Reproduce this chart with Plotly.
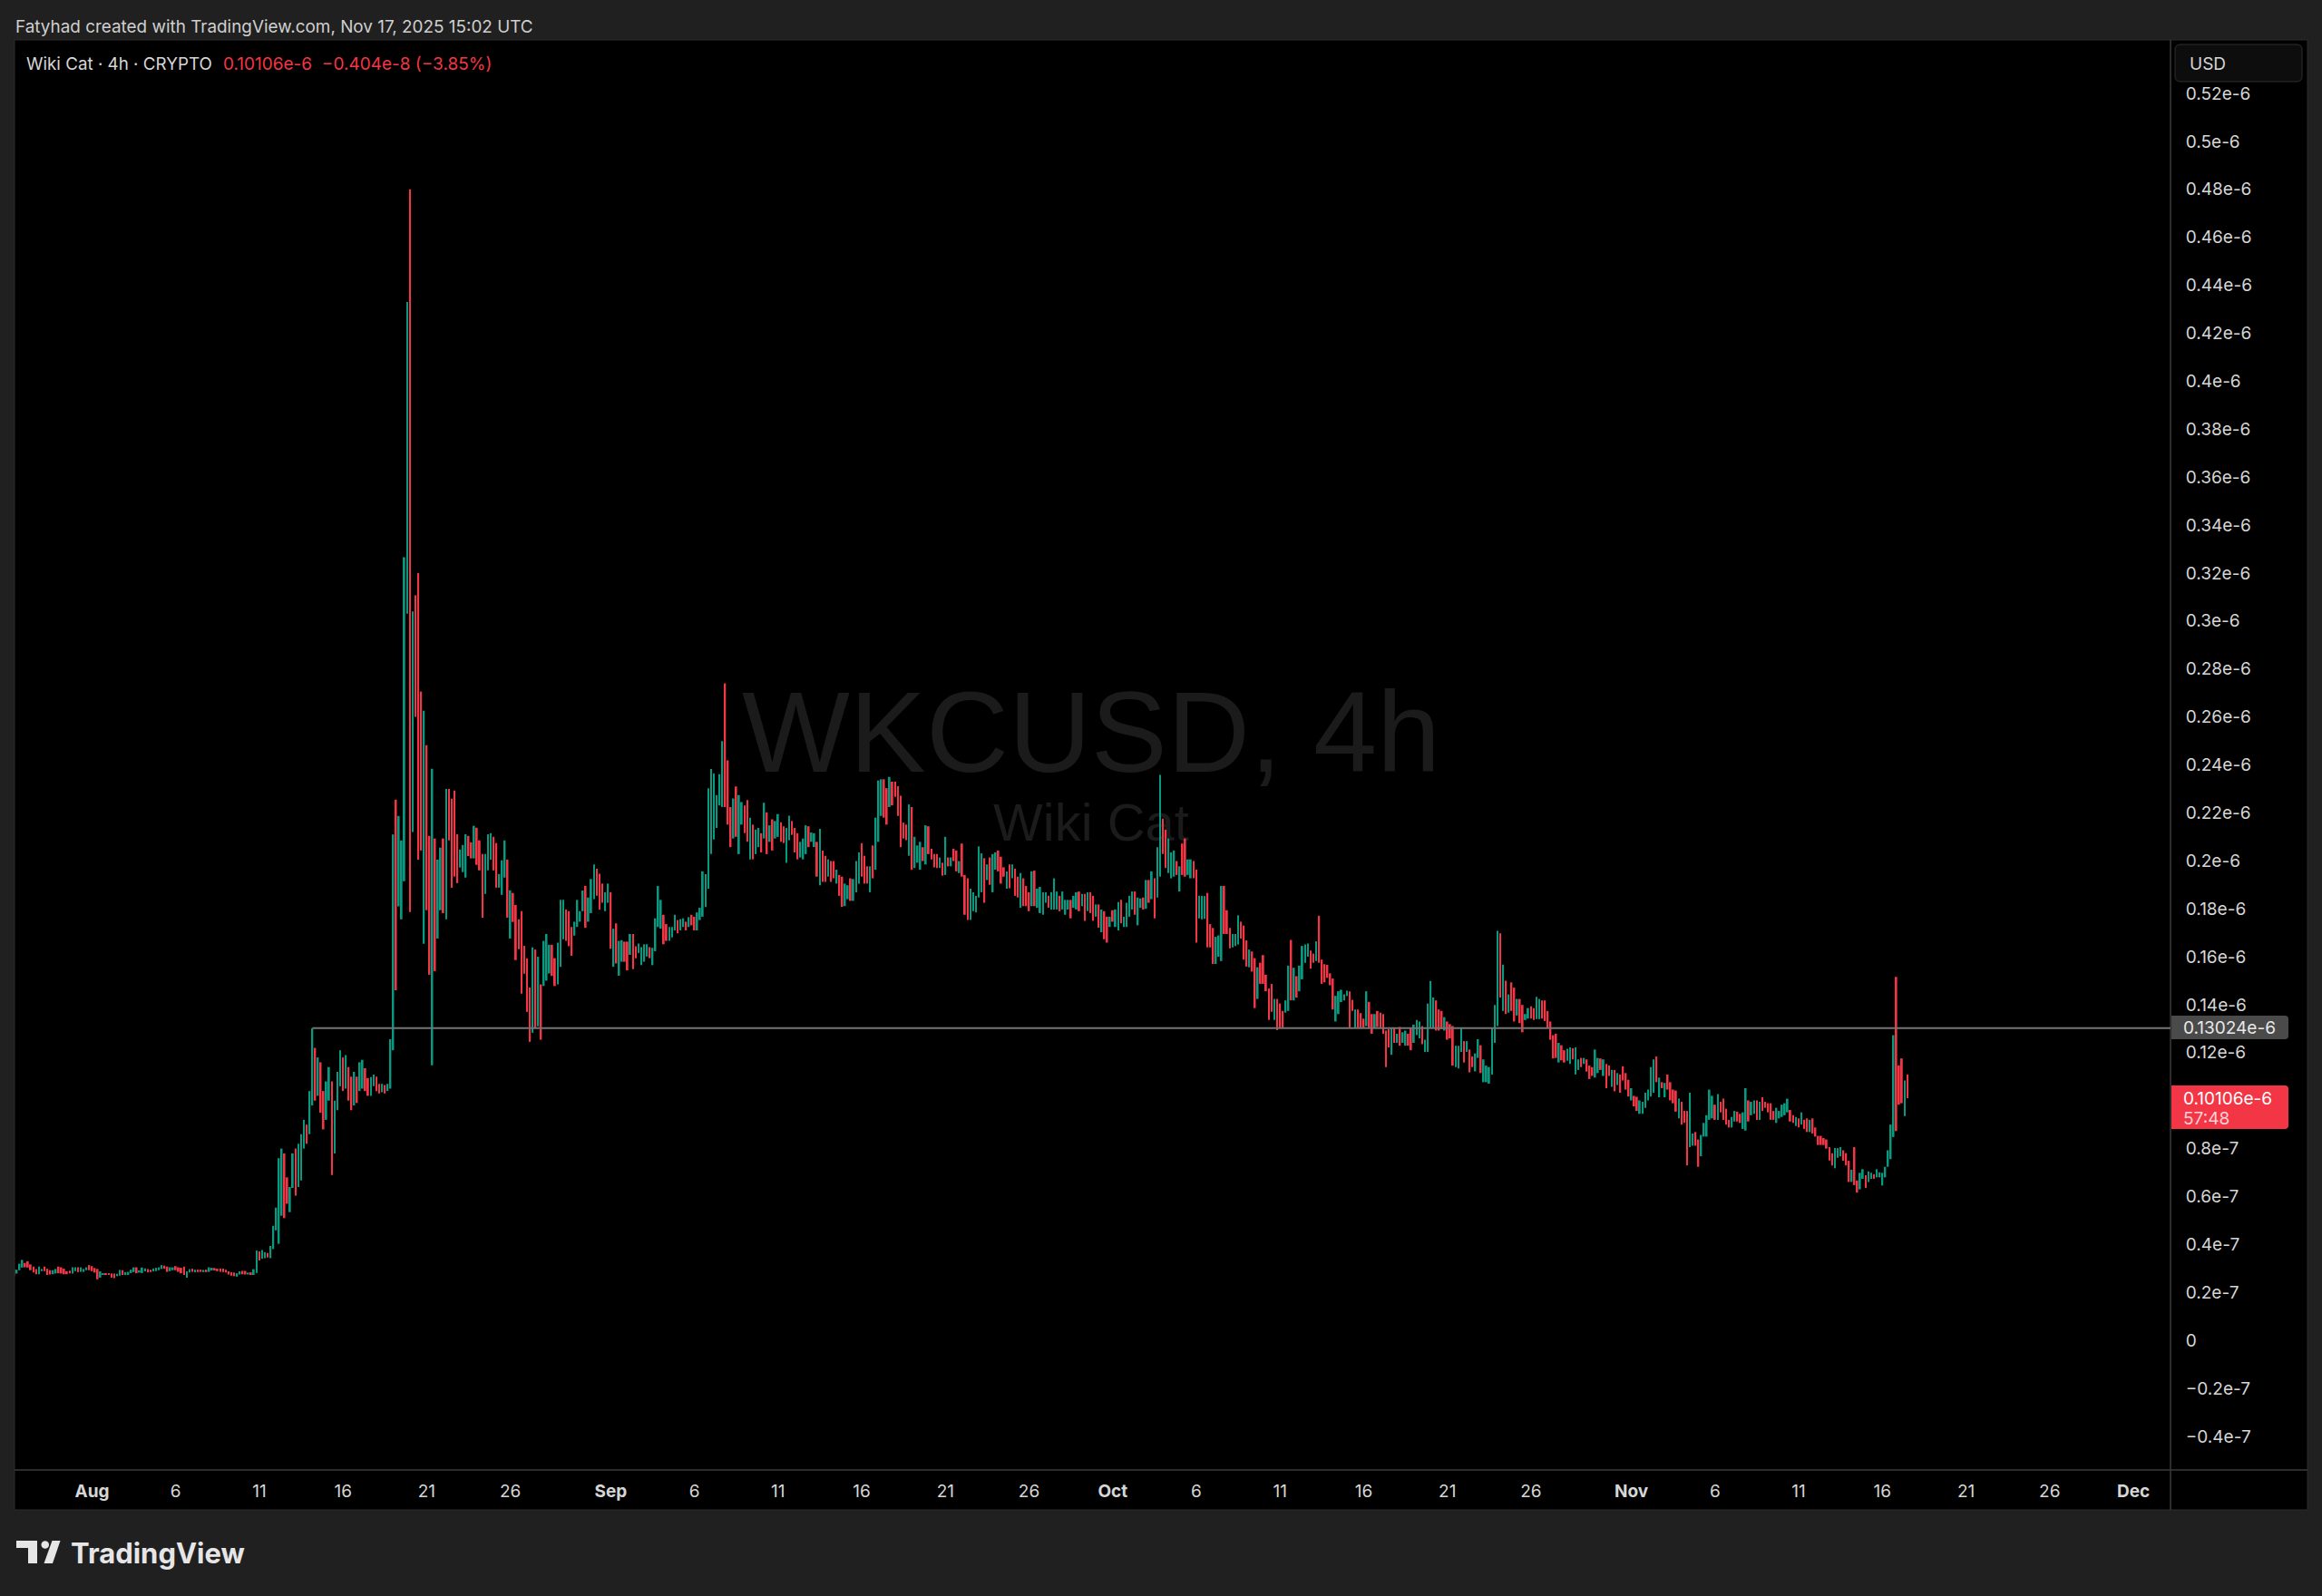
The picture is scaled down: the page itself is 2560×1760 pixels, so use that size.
import pandas as pd
import plotly.graph_objects as go

# ---------------- data (prices in units of 1e-9 USD) ----------------
START = "2025-07-27 08:00"      # first 4h candle
PRICE_UNIT = 1e-9

# candle extents: top, bottom, direction (g = up, r = down)
top_1 = [29.8, 29.5, 32.0, 33.6, 32.3, 33.0, 31.7, 30.8, 29.8, 30.8,
         29.8, 30.8, 29.9, 29.3, 29.3, 29.8, 30.8, 30.5, 29.9, 28.9,
         29.1, 30.5, 30.5, 30.5, 30.5, 29.8, 30.5, 31.4, 31.0, 30.2,
         29.8, 28.8, 28.0, 28.1, 28.0, 28.0, 27.9, 27.8, 29.4, 29.3,
         28.5, 28.6, 29.5, 30.5, 30.5, 29.2, 30.4, 30.0, 29.8, 29.5,
         30.0, 30.3, 30.5, 31.4, 31.2, 30.8, 30.5, 30.5, 31.0, 30.5,
         30.3, 30.8, 28.8, 29.8, 29.9, 29.5, 29.5, 29.5, 29.4, 29.5,
         30.5, 30.3, 30.2, 29.9, 29.9, 29.9, 29.5, 28.8, 28.4, 28.3,
         28.0, 28.8, 29.0, 29.0, 28.3, 28.4, 29.7, 37.5, 37.1, 37.7,
         36.8, 36.5, 39.4, 47.8, 55.4, 76, 80, 78, 68, 64,
         78, 80, 82, 86]
bot_1 = [27.0, 27.9, 29.3, 30.4, 30.5, 30.4, 29.3, 28.3, 27.6, 27.6,
         28.9, 28.9, 27.3, 27.5, 27.6, 27.9, 28.0, 27.9, 27.6, 27.6,
         28.0, 27.9, 28.9, 28.5, 28.6, 28.6, 29.3, 29.3, 28.9, 28.3,
         25.5, 26.2, 27.5, 27.4, 27.3, 26.2, 26.0, 26.8, 27.0, 27.3,
         27.3, 27.3, 28.1, 28.5, 28.0, 28.3, 28.1, 28.8, 28.4, 28.5,
         28.8, 28.9, 29.3, 29.8, 29.9, 28.6, 28.9, 29.3, 29.3, 28.6,
         28.0, 27.3, 26.2, 28.3, 28.6, 28.8, 28.5, 28.6, 28.5, 28.5,
         28.6, 29.2, 29.5, 28.9, 28.6, 28.5, 28.3, 27.5, 27.0, 26.8,
         26.6, 27.5, 27.6, 27.5, 27.5, 27.3, 27.3, 28.1, 33.3, 34.1,
         34.3, 34.6, 34.3, 38.1, 45.9, 40.3, 52, 51, 57, 53.5,
         63.6, 60.4, 64, 66.7]
dir_1 = ("rgggrrrrrg" "grrrggrrrr" "rggrgggrrr" "rggrrrrggr" "ggggrgggrr"
         "ggggrrggrr" "rrggrgrrgr" "ggrrrrrrrr" "ggrrgrggrg" "grgggggrrg" "grgg")

top_2 = [92, 90, 104, 130.2, 122, 118, 116, 104, 108, 114,
         108, 100, 112, 121, 118, 119, 114, 110, 112, 110, 116]
bot_2 = [80, 82, 86, 98, 100, 102, 95, 88, 92, 100,
         69, 78, 96, 106, 104, 105, 100, 96, 98, 99, 104]
dir_2 = "grggrgrrgg" "rgggrgrrgr" "g"

top_3 = [117, 113.5, 109.4, 109.8, 110.9, 110, 107, 107, 106.5, 107,
         125.6, 211, 225.5, 218.7, 208.5, 326.6, 433, 480, 304, 310.7,
         320, 270.6, 262.6, 248.2, 210.4, 238.4, 209.3, 200.5, 205.5, 209.3,
         230, 230, 225.9, 229.3, 211.1, 204.7, 206.6, 211.1, 210.4, 207.7,
         214.6, 213.8, 208.5, 202.8, 202.8, 211.1, 211.5, 210, 207.4, 194.5,
         200.2, 208.5, 200.5, 187.7, 186.6, 181.6, 175.6, 179, 164.6, 159.3,
         147.2, 163.9]
bot_3 = [105, 104, 102, 102, 106, 104, 103, 103.5, 103, 104,
         105, 121, 146, 181, 175.6, 191.5, 303, 178.6, 212, 260,
         200.5, 204.3, 165.4, 179.4, 152.5, 114.7, 154, 167.6, 179.4, 178.2,
         175.6, 208.5, 188.8, 193.4, 190.7, 197.2, 195.3, 193, 202, 201,
         201, 198.3, 196, 176.3, 186.2, 196, 200.5, 196, 188.8, 188.8,
         185.8, 193, 176.3, 167.6, 174.5, 158.6, 163.1, 144.6, 152.9, 137,
         124.5, 128.3]
dir_3 = ("grrggrrgrg" "ggrggggrgr" "rrgrrgrggr" "grrrrgggrr" "grrrgggrrg"
         "ggrgrrrrrr" "rg")

top_4 = [163, 160, 148.5, 166.6, 169.5, 165, 165, 159.4, 165.9, 183.7,
         183.7, 179.7, 179, 172.4, 174.6, 183.7, 179, 187.6, 189.5, 184.7,
         192.4, 198.5, 196.7, 194.6, 190.5, 186.9, 190.5, 186.9, 171.7, 173.9,
         166.6, 166.9, 166.3, 166.3, 169.5, 169.5, 164.4, 165.5, 164, 165.2,
         165.2, 164, 163.7, 176, 189.5, 183.7, 177.5, 173.6, 172.4, 172.4,
         177.5, 175.3, 175.7, 176, 174.6, 176.5, 177.5, 176.7, 178.5,
         180.4, 195.6,
         194.4, 230.3, 238.3, 236.4, 227.4, 236.1, 249.9, 274, 241.9, 222.4,
         226, 231, 227.4, 224.5, 223.1, 225.3, 218, 215.1, 213, 213.7,
         211.5, 224.2, 220.2, 214.8, 217.3, 216.6, 219.5, 216.1, 214.4, 213.7,
         218.8, 216.6, 213.7, 211.5, 207.9, 209.3, 214.8, 214.4, 211.8, 211.5,
         207.9, 213.3, 204.3, 202.1, 200.6, 199.9, 199.9, 196.3, 194.1, 193.4,
         190.5, 189.8, 192.7, 192.4, 199.9, 203.5, 207.4, 202.1, 197.7, 197.7,
         206.4, 218, 233.5, 234, 234, 230.3, 235, 233, 233, 231.1,
         227.1, 215.9, 215.1, 223.5, 222.4, 210, 206.4, 207.9, 205.7, 214.8,
         214.4, 205, 202.8, 202.8, 201.4, 199.2, 210, 201.4, 201.4, 205,
         204.3, 199.9, 207.2, 194.1, 192.7, 188.4, 186.9, 185.4, 206, 203.1,
         201.1, 198.5, 201.4, 202.8, 203.5, 204.3, 201.7, 197.3, 195.6, 198.5,
         198.5, 196.7, 193.4, 194.9, 192.7, 189.5, 186.9, 195.6, 195.9, 188.4,
         189.1, 186.9, 186.9, 185.4, 186.9, 192.7, 187.2, 185.4, 187.2, 183.7,
         183.7, 183.7, 185.4, 186.9, 187.2, 186.2, 186.2, 186.9, 186.9, 185.4,
         181.8, 181.8, 179.7, 179, 176.7, 176.7, 179.4, 179.7, 182.8, 183.7,
         176.7, 182.5, 185.4, 187.2, 187.2, 184.7, 184.3, 184.7, 192, 192,
         195.6, 192.7, 205.7, 235.8, 217.6, 213, 209.3, 203.5, 204.3, 199.9,
         197.7, 207.2, 209.3, 200.6, 200.6, 199.9, 196.3, 185.4, 185.4, 185.3]
bot_4 = [130, 131, 125.4, 147.8, 150, 153, 152, 147.8, 148.5, 155.8,
         167.3, 166.6, 164.4, 160.4, 168.8, 172.4, 174.6, 179, 172.1, 174.6,
         178.2, 184, 185.4, 179.7, 182.5, 179, 182.5, 163.3, 155.8, 157.2,
         152.1, 157.9, 157.9, 154.3, 160.8, 154.8, 159.4, 161.5, 156.5, 157.9,
         160.1, 159.4, 156.5, 162.3, 172.4, 171.7, 165.2, 166.6, 166.6, 168.1,
         171, 169.8, 171, 172.4, 171, 172.4, 173.1, 171, 171,
         175.3, 176.7,
         180.7, 188.4, 202.8, 208.9, 213.7, 223.1, 222.4, 222.4, 215.1, 205.7,
         209.3, 210, 202.8, 215.1, 211.5, 207.9, 200.6, 200.6, 202.8, 205.7,
         203.5, 209.3, 202.8, 207.9, 204.3, 209.3, 210, 207.9, 207.4, 199.2,
         208.6, 210.8, 203.5, 200.6, 201.4, 200.6, 202.8, 205.7, 207.9, 205.7,
         193.4, 189.8, 191.2, 191.2, 193.4, 191.2, 192.7, 190.5, 185.4, 180.8,
         181.1, 184, 183.3, 183.3, 186.9, 190.5, 193.4, 190.5, 190.5, 186.9,
         192.7, 196.3, 207.9, 218.7, 218, 215.1, 222.4, 223.1, 226.7, 218.7,
         205.7, 209.3, 208.6, 202.1, 196.3, 197, 199.2, 196.3, 199.9, 198.5,
         202.8, 200.6, 197.3, 197, 197, 193.8, 194.1, 197.7, 197.7, 199.9,
         195.6, 194.9, 193.4, 177.5, 175.3, 175.3, 179, 178.5, 184.7, 186.9,
         182.5, 192, 190, 186.9, 196.3, 195.6, 190.5, 193.4, 188.4, 188.6,
         192.7, 185.4, 184.7, 180.4, 181.1, 181.1, 179, 181.1, 181.1, 180.4,
         178.2, 177.5, 182.5, 180.4, 179.7, 179.7, 179.7, 179, 179.7, 177.5,
         179.7, 176, 180.4, 179.7, 179, 181.1, 175, 179, 178.2, 175,
         176.7, 172.1, 170.2, 167.3, 165.9, 172.4, 174.6, 172.4, 171, 173.9,
         172.4, 172.4, 176.7, 179.7, 177.5, 173.1, 180.4, 179.7, 180, 182.5,
         184, 176, 184.7, 193.4, 202.8, 197, 194.9, 192.7, 193.4, 194.1,
         187.2, 194.1, 193.4, 194.1, 192.7, 192.7, 165.9, 176, 175.6, 175.8]
dir_4 = ("rgrgggrrgg" "grrrggggrg" "ggrrrggrgr" "ggrrgrrggg" "grggggrrgg"
         "grggrgrrg" "gg"
         "gggggggrrr" "grggrrgrgg" "rgrgrggrrg" "grrrgggrgg" "rgrrgrrgrr"
         "ggrgggrrrg" "rgggrrgrrr" "rrrgrgggrg" "rrrrgrgrgr" "rgrrrggggg"
         "rgrggrrrgr" "grrgrrrgrg" "gggrgggrgg" "grggrgrgrr" "grgrrgrggr"
         "ggggrggrgr" "grggrrgggr" "grrggrrggg")

top_5 = [186.6, 173.6, 172, 168.3, 168.9, 189.5, 189.5, 179.4, 172, 169.5,
         169.5, 177.3, 174.6, 173, 166.8, 163, 162.2, 159.4, 155.6, 157.5,
         160.7, 152.5, 146.8, 148.7, 142.4, 142.4, 140.5, 137.4, 141.8, 156.3,
         167, 155.4, 151.9, 156.3, 164.5, 165.1, 165.5, 162.6, 161.3, 166.4,
         177.1, 158.8, 156.9, 156.6, 153.1, 150.9, 143.7, 145.6, 146.2, 144.3,
         145.8, 145.6, 142, 138, 138, 136.5, 134.2, 145.6, 141.2, 136.1,
         136.1, 137.4, 136.7, 136.1, 129.2, 129.8, 130.4, 130.4, 127.9, 130.7,
         128.5, 129.2, 127.9, 130.4, 131.7, 133.6, 133, 131.1, 125.4, 140.5,
         149.9, 143, 141.8, 138, 137.4, 134.8, 133, 131.9, 131.1, 122.9,
         122.9, 130.4, 124.8, 124.8, 121.3, 118.4, 119.7, 125.6, 123.1, 117.2,
         114.6, 114, 130.4, 139.9, 170.8, 169.8, 156.7, 150, 144.3,
         149.3, 147.1, 142.4, 142.4, 139.9, 136.1, 138.6, 139.3, 138.6, 143.3,
         142.4, 141.8, 141.8, 137.4, 133, 127.3, 127.9, 124.1, 123.1, 121,
         121.6, 122.2, 121.8, 122.2, 117.2, 117.8, 117.8, 117.2, 114.6, 114,
         121.3, 117.8, 117.6, 117.2, 115.3, 114.6, 112.8, 112.8, 111.5, 110.9,
         114.3, 111.5, 108.7, 105.2, 102, 101.6, 100.1, 99.5, 103.3, 104.6,
         114, 117.2, 118.4, 109.6, 107.7, 107.4, 110.9, 107.7, 104.6, 104.2,
         100.8, 99.5, 95.7, 95.7, 103.3, 86.3, 86.9, 83.8, 85.7, 90.7,
         93.9, 104.6, 102, 98.3, 102.7, 99.5, 100.8, 96.6, 92, 93.2,
         95.7, 95.4, 94.5, 95.1, 105.2, 100.1, 99.5, 100.1, 100.1, 99.5,
         101.4, 99.5, 98.9, 98.9, 95.7, 97, 95.7, 98.3, 98.9, 100.8,
         96.1, 93.9, 93.2, 92.6, 95.1, 92, 92.6, 92, 92.6, 88.8,
         85.3, 85.3, 84.4, 83.8, 80.6, 78.1, 80.2, 80.2, 80.6, 79.3,
         78.1, 74.9, 71.2, 80.6, 66.7, 69.9, 71.4, 68.9, 70.5, 69.9,
         69.3, 71.4, 70.1, 69.9, 72.4, 79.3, 90,
         127.3, 151.6, 114.7, 117.6, 108.4, 110.9]
bot_5 = [163.9, 163.9, 157, 157, 160, 158.2, 169.5, 169.5, 163.5, 163.9,
         164.5, 165.1, 167.6, 158.8, 155.9, 155.6, 153.8, 138.6, 142.4, 148.7,
         148.7, 145.6, 133.6, 137, 133.6, 129.4, 130.4, 130.4, 136.7, 137.4,
         141.8, 141.8, 143, 145.6, 150.6, 157.5, 160, 155, 157.5, 158.2,
         157.5, 148.7, 149.3, 151.2, 148.1, 138, 133, 136.1, 141.1, 141.8,
         143.7, 130.4, 137.4, 130.4, 130.2, 130.4, 130.4, 131.1, 130.4, 127.9,
         130.4, 130.7, 130.4, 127.9, 114, 122.2, 119.1, 124.1, 124.1, 122.9,
         124.1, 122.9, 122.9, 121, 124.1, 127.3, 126, 123.5, 120.3, 120.3,
         130.4, 130.4, 129.2, 129.2, 129.8, 129.2, 125.4, 126, 114.6, 114,
         113.4, 120.3, 115.9, 120.3, 111.8, 114, 112.2, 117.8, 111.5, 107.7,
         107.7, 107.1, 110.9, 124.1, 131.1, 143, 137.4, 136.1, 136.7,
         137.4, 133, 135.5, 132.3, 128.5, 133.6, 134.2, 134.2, 133.6, 134,
         134, 134.2, 133.2, 130.4, 125.4, 117.6, 117.8, 115.9, 116.8, 115.9,
         116.6, 115.3, 117.2, 110.9, 112.8, 114, 115.3, 112.1, 109, 110.3,
         109.6, 111.5, 112.8, 110.3, 105.2, 110.3, 105.8, 103.9, 106.5, 103.3,
         108.4, 104.6, 101.7, 100.1, 97.6, 95.7, 94.5, 94.5, 97, 100.1,
         101.7, 103.3, 107.7, 101.4, 105.2, 101.4, 104.6, 100.1, 98.9, 95.4,
         92.6, 90, 90.7, 73, 80.6, 81.2, 81.2, 72.4, 76.8, 85,
         85, 92, 92.6, 92, 92, 95.1, 92, 90, 88.8, 88.8,
         91.3, 91.3, 90.7, 88.2, 87.5, 91.3, 93.9, 94.5, 92, 92,
         95.7, 97, 95.1, 92, 92, 90.7, 92.6, 93.2, 93.9, 95.1,
         91.3, 90.7, 89.4, 88.8, 90, 88.2, 86.9, 86.9, 86.3, 85,
         81.5, 81.5, 81.5, 80, 75, 73, 71.8, 76.2, 76.8, 74.9,
         73, 66.1, 66.1, 64.8, 61.7, 63, 67.4, 63.6, 66.1, 67.4,
         67.4, 68, 68, 64.6, 68, 72.4, 75.6,
         84.8, 87.3, 98.3, 98.9, 93.6, 101.06]
dir_5 = ("rrrgggrrrg" "ggrrrgrrgr" "rrrrgrrrgg" "rgrggggrrg" "rrrrrrgggg"
         "grrgrrrgrr" "grrrrrgrgr" "ggrrgggrgg" "ggrrrgrrrg" "ggrgrrggrg"
         "gggggrgrg"
         "rrgrrggrrg" "grrrrrrgrr" "ggrggrgrrr" "ggrgrrgrgr" "rrrgrrgggg"
         "ggrgrgrrrr" "grrrggrrgg" "gggrgrrrrg" "grrggrggrg" "rrrrrggggg"
         "rrgrgrrgrr" "rrrrrrgggr" "rrgrrggrgg"
         "rgggggg" "grrrgr")

bar_top = top_1 + top_2 + top_3 + top_4 + top_5
bar_bot = bot_1 + bot_2 + bot_3 + bot_4 + bot_5
bar_dir = dir_1 + dir_2 + dir_3 + dir_4 + dir_5

LEVEL = 130.24          # horizontal drawing level (0.13024e-6)
LEVEL_FROM_BAR = 107    # candle where the drawn line starts
LAST_PRICE_TEXT = "0.10106e-6"
COUNTDOWN = "57:48"

x_tick_dates = ["2025-08-01", "2025-08-06", "2025-08-11", "2025-08-16", "2025-08-21", "2025-08-26",
                "2025-09-01", "2025-09-06", "2025-09-11", "2025-09-16", "2025-09-21", "2025-09-26",
                "2025-10-01", "2025-10-06", "2025-10-11", "2025-10-16", "2025-10-21", "2025-10-26",
                "2025-11-01", "2025-11-06", "2025-11-11", "2025-11-16", "2025-11-21", "2025-11-26",
                "2025-12-01"]
x_tick_text = ["<b>Aug</b>", "6", "11", "16", "21", "26",
               "<b>Sep</b>", "6", "11", "16", "21", "26",
               "<b>Oct</b>", "6", "11", "16", "21", "26",
               "<b>Nov</b>", "6", "11", "16", "21", "26",
               "<b>Dec</b>"]
y_tick_vals = [-40, -20, 0, 20, 40, 60, 80, 120, 140, 160, 180, 200, 220, 240,
               260, 280, 300, 320, 340, 360, 380, 400, 420, 440, 460, 480, 500, 520]
y_tick_text = ["\u22120.4e-7", "\u22120.2e-7", "0", "0.2e-7", "0.4e-7", "0.6e-7", "0.8e-7",
               "0.12e-6", "0.14e-6", "0.16e-6", "0.18e-6", "0.2e-6", "0.22e-6", "0.24e-6",
               "0.26e-6", "0.28e-6", "0.3e-6", "0.32e-6", "0.34e-6", "0.36e-6", "0.38e-6",
               "0.4e-6", "0.42e-6", "0.44e-6", "0.46e-6", "0.48e-6", "0.5e-6", "0.52e-6"]

# ---------------- layout geometry ----------------
W, H = 2560, 1760
PL, PR, PT, PB = 16, 2393, 44, 1621
X_RANGE = ["2025-07-27 08:46", "2025-12-03 05:17"]
Y_RANGE = [-54.0 * PRICE_UNIT, 542.3 * PRICE_UNIT]
UP, DOWN = "#089981", "#f23645"
FONT = "Inter, Roboto, sans-serif"
TXT = "#d6d6d6"
AX_SIZE = 19


def fx(px):
    return (px - PL) / (PR - PL)


def fy(py):
    return (PB - py) / (PB - PT)


def rrect(x0, y0, x1, y1, rl, rr):
    path = "M{},{} L{},{} ".format(fx(x0 + rl), fy(y0), fx(x1 - rr), fy(y0))
    path += "Q{},{} {},{} ".format(fx(x1), fy(y0), fx(x1), fy(y0 + rr))
    path += "L{},{} ".format(fx(x1), fy(y1 - rr))
    path += "Q{},{} {},{} ".format(fx(x1), fy(y1), fx(x1 - rr), fy(y1))
    path += "L{},{} ".format(fx(x0 + rl), fy(y1))
    path += "Q{},{} {},{} ".format(fx(x0), fy(y1), fx(x0), fy(y1 - rl))
    path += "L{},{} ".format(fx(x0), fy(y0 + rl))
    path += "Q{},{} {},{} Z".format(fx(x0), fy(y0), fx(x0 + rl), fy(y0))
    return path


def poly(points):
    return "M" + " L".join("{},{}".format(fx(a), fy(b)) for a, b in points) + " Z"


def note(text, px, py, size, color, xanchor="left", yanchor="middle", family=FONT):
    return dict(text=text, x=fx(px), y=fy(py), xref="paper", yref="paper",
                xanchor=xanchor, yanchor=yanchor, showarrow=False,
                font=dict(family=family, size=size, color=color))


times = pd.date_range(START, periods=len(bar_top), freq="4h")
df = pd.DataFrame({"t": times, "top": bar_top, "bot": bar_bot, "dir": list(bar_dir)})
df["base"] = df["bot"] * PRICE_UNIT
df["h"] = (df["top"] - df["bot"]).clip(lower=0.4) * PRICE_UNIT
BAR_W = 0.58 * 4 * 3600 * 1000

fig = go.Figure()

# watermark on the base subplot (drawn beneath the candles)
x_px_to_time = lambda px: pd.Timestamp("2025-08-01") + pd.Timedelta(days=(px - 101.5) / 18.447)
y_px_to_val = lambda py: (1478.2 - py) / 2.6445 * PRICE_UNIT
WM = "#1b1b1b"
fig.add_trace(go.Scatter(x=[x_px_to_time(1203)], y=[y_px_to_val(820)], mode="text",
                         text=["WKCUSD, 4h"], textposition="middle center",
                         textfont=dict(family="Liberation Sans, Arial, sans-serif", size=126, color=WM),
                         hoverinfo="skip", showlegend=False))
fig.add_trace(go.Scatter(x=[x_px_to_time(1203)], y=[y_px_to_val(913)], mode="text",
                         text=["Wiki Cat"], textposition="middle center",
                         textfont=dict(family="Liberation Sans, Arial, sans-serif", size=58, color=WM),
                         hoverinfo="skip", showlegend=False))

for d, col in (("g", UP), ("r", DOWN)):
    sub = df[df["dir"] == d]
    fig.add_trace(go.Bar(x=sub["t"], y=sub["h"], base=sub["base"], width=BAR_W,
                         marker=dict(color=col, line=dict(width=0)),
                         xaxis="x2", yaxis="y2", showlegend=False, hoverinfo="skip"))

shapes = []
shapes.append(dict(type="rect", xref="paper", yref="paper", x0=fx(16), x1=fx(2544),
                   y0=fy(1665), y1=fy(44), fillcolor="#000000",
                   line=dict(color="#2c2c2c", width=1), layer="below"))
shapes.append(dict(type="line", xref="paper", yref="paper", x0=fx(2393), x1=fx(2393),
                   y0=fy(44), y1=fy(1665), line=dict(color="#3a3a3a", width=1.5), layer="above"))
shapes.append(dict(type="line", xref="paper", yref="paper", x0=fx(16), x1=fx(2544),
                   y0=fy(1621), y1=fy(1621), line=dict(color="#3a3a3a", width=1.5), layer="above"))
shapes.append(dict(type="line", xref="x", yref="y", x0=times[LEVEL_FROM_BAR], x1=X_RANGE[1],
                   y0=LEVEL * PRICE_UNIT, y1=LEVEL * PRICE_UNIT,
                   line=dict(color="#747474", width=2), layer="above"))
shapes.append(dict(type="path", xref="paper", yref="paper", path=rrect(2394, 1120, 2523, 1146, 0, 4),
                   fillcolor="#4a4a4a", line=dict(width=0), layer="above"))
shapes.append(dict(type="path", xref="paper", yref="paper", path=rrect(2394, 1197, 2523, 1245, 0, 4),
                   fillcolor=DOWN, line=dict(width=0), layer="above"))
shapes.append(dict(type="path", xref="paper", yref="paper", path=rrect(2398, 49, 2538, 90, 6, 6),
                   fillcolor="#0d0d0d", line=dict(color="#2f2f2f", width=1), layer="above"))
LOGO = "#e6e6e6"
shapes.append(dict(type="path", xref="paper", yref="paper",
                   path=poly([(18, 1699), (41, 1699), (41, 1724), (31, 1724), (31, 1707), (18, 1707)]),
                   fillcolor=LOGO, line=dict(width=0), layer="above"))
shapes.append(dict(type="circle", xref="paper", yref="paper", x0=fx(45.5), x1=fx(54),
                   y0=fy(1707.8), y1=fy(1699.3), fillcolor=LOGO, line=dict(width=0), layer="above"))
shapes.append(dict(type="path", xref="paper", yref="paper",
                   path=poly([(57.5, 1699), (66.5, 1699), (58, 1724), (48.5, 1724)]),
                   fillcolor=LOGO, line=dict(width=0), layer="above"))

annotations = [
    note("Fatyhad created with TradingView.com, Nov 17, 2025 15:02 UTC", 15, 29.5, 18.9, "#cfcfcf"),
    note("Wiki Cat \u00b7 4h \u00b7 CRYPTO", 27, 71, 18.8, TXT),
    note("0.10106e-6\u00a0\u00a0\u22120.404e-8 (\u22123.85%)", 244, 71, 19, DOWN),
    note("USD", 2412, 70, AX_SIZE, TXT),
    note("0.13024e-6", 2405, 1133, AX_SIZE, "#e8e8e8"),
    note(LAST_PRICE_TEXT, 2405, 1212, AX_SIZE, "#ffffff"),
    note(COUNTDOWN, 2405, 1233, AX_SIZE, "rgba(255,255,255,0.78)"),
    note("<b>TradingView</b>", 76, 1712, 31, LOGO),
]

fig.update_layout(
    width=W, height=H,
    margin=dict(l=PL, r=W - PR, t=PT, b=H - PB, pad=0),
    paper_bgcolor="#202020", plot_bgcolor="#000000",
    barmode="overlay", showlegend=False,
    shapes=shapes, annotations=annotations,
    font=dict(family=FONT, color=TXT),
    xaxis=dict(type="date", range=X_RANGE, tickvals=x_tick_dates, ticktext=x_tick_text,
               ticks="outside", ticklen=6, tickcolor="rgba(0,0,0,0)",
               tickfont=dict(family=FONT, size=AX_SIZE, color=TXT),
               showgrid=False, zeroline=False, showline=False, fixedrange=True),
    yaxis=dict(range=Y_RANGE, side="right", tickvals=[v * PRICE_UNIT for v in y_tick_vals],
               ticktext=y_tick_text, ticks="outside", ticklen=12, tickcolor="rgba(0,0,0,0)",
               tickfont=dict(family=FONT, size=AX_SIZE, color=TXT),
               showgrid=False, zeroline=False, showline=False, fixedrange=True),
    xaxis2=dict(type="date", range=X_RANGE, overlaying="x", anchor="y2", visible=False, fixedrange=True),
    yaxis2=dict(range=Y_RANGE, overlaying="y", anchor="x2", visible=False, fixedrange=True),
)

fig.write_html("out.html", config={"displayModeBar": False},
               post_script="document.body.style.margin='0';"
                           "document.body.style.background='#202020';"
                           "document.body.style.overflow='hidden';")
